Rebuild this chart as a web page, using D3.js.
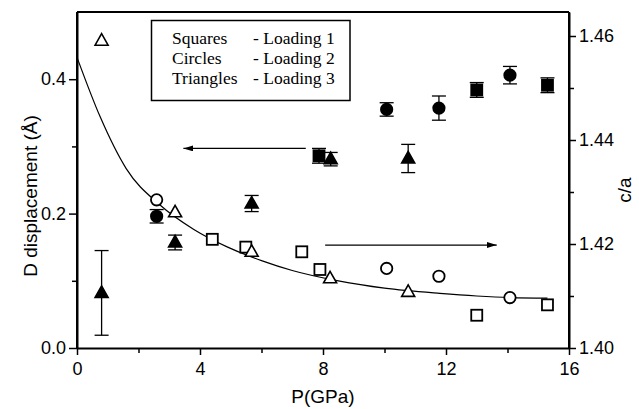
<!DOCTYPE html>
<html><head><meta charset="utf-8">
<script src="https://cdn.jsdelivr.net/npm/d3@7/dist/d3.min.js"></script>
<style>body{margin:0;background:#fff}
.sans{font-family:"Liberation Sans", Arial, sans-serif}
.serif{font-family:"Liberation Serif", "Times New Roman", "DejaVu Serif", serif}
</style>
</head><body><svg id="c" width="639" height="409"></svg>
<script>
// ---- data (P in GPa) ----
// D displacement (filled markers, left axis): [P, D, err]
const dSquares   = [[7.87,0.286,0.011],[13.0,0.384,0.011],[15.3,0.391,0.011]];
const dCircles   = [[2.59,0.196,0.010],[10.07,0.355,0.010],[11.77,0.357,0.018],[14.08,0.406,0.013]];
const dTriangles = [[0.80,0.082,0.063],[3.19,0.157,0.011],[5.68,0.215,0.012],[8.25,0.281,0.010],[10.77,0.282,0.021]];
// c/a (open markers, right axis): [P, c/a]
const cSquares   = [[4.40,1.4209],[5.49,1.4194],[7.31,1.4185],[7.90,1.4151],[13.0,1.4063],[15.3,1.4083]];
const cCircles   = [[2.59,1.4285],[10.07,1.4153],[11.77,1.4138],[14.08,1.4097]];
const cTriangles = [[0.80,1.4591],[3.19,1.4261],[5.68,1.4185],[8.23,1.4134],[10.77,1.4108]];
// fitted curve (c/a)
const fitCurve = [[0,1.4559],[0.75,1.4445],[1.6,1.4345],[2.7,1.4275],[3.8,1.4228],[4.9,1.4194],[6.0,1.4168],[7.0,1.4149],[8.5,1.4129],[10,1.4115],[11.8,1.4105],[13,1.4100],[14.1,1.4097],[15.3,1.4096]];
const xTicks = [0,4,8,12,16];
const yLeftTicks = [0.0,0.2,0.4];
const yRightTicks = [1.40,1.42,1.44,1.46];
const legendRows = [["Squares","- Loading 1"],["Circles","- Loading 2"],["Triangles","- Loading 3"]];

const L=77,R=569,T=12,B=348;
const svg=d3.select("#c");
const x=d3.scaleLinear().domain([0,16]).range([L,R]);
const yL=d3.scaleLinear().domain([0,0.5]).range([B,T]);
const yR=d3.scaleLinear().domain([1.40,1.40+(B-T)/5200]).range([B,T]);

// axes
const ax=svg.append("g").attr("class","sans");
function styleAxis(g){g.attr("font-family",null).attr("font-size",null);g.select(".domain").attr("stroke-width",2);g.selectAll(".tick line").attr("stroke-width",1.5);g.selectAll("text").attr("fill","#000").attr("class","sans").style("font-size","18px");}
const gx=ax.append("g").attr("transform",`translate(0,${B})`)
  .call(d3.axisBottom(x).tickValues(d3.range(0,17,2)).tickSize(7).tickSizeOuter(0).tickFormat(d=>xTicks.includes(d)?d3.format("d")(d):""));
styleAxis(gx); gx.selectAll("text").attr("y",14).attr("dy","0.71em");
gx.selectAll(".tick").filter(d=>!xTicks.includes(d)).select("line").attr("y2",5);
const gl=ax.append("g").attr("transform",`translate(${L},0)`)
  .call(d3.axisLeft(yL).tickValues(d3.range(0,0.45,0.1)).tickSize(8).tickSizeOuter(0).tickFormat(d=>yLeftTicks.some(v=>Math.abs(v-d)<1e-6)?d3.format(".1f")(d):""));
styleAxis(gl); gl.selectAll("text").attr("x",-11);
gl.selectAll(".tick").filter(d=>!yLeftTicks.some(v=>Math.abs(v-d)<1e-6)).select("line").attr("x2",-5);
const gr=ax.append("g").attr("transform",`translate(${R},0)`)
  .call(d3.axisRight(yR).tickValues([1.40,1.41,1.42,1.43,1.44,1.45,1.46]).tickSize(7).tickSizeOuter(0).tickFormat(d=>yRightTicks.some(v=>Math.abs(v-d)<1e-6)?d3.format(".2f")(d):""));
styleAxis(gr); gr.selectAll("text").attr("x",10);
gr.selectAll(".tick").filter(d=>!yRightTicks.some(v=>Math.abs(v-d)<1e-6)).select("line").attr("x2",5);
svg.append("line").attr("x1",L).attr("x2",R).attr("y1",T).attr("y2",T).attr("stroke","#000").attr("stroke-width",2);
svg.append("line").attr("x1",L).attr("x2",L).attr("y1",T).attr("y2",B).attr("stroke","#000").attr("stroke-width",2);
svg.append("line").attr("x1",R).attr("x2",R).attr("y1",T).attr("y2",B).attr("stroke","#000").attr("stroke-width",2);

// titles
svg.append("text").attr("class","sans").attr("x",323).attr("y",403).attr("text-anchor","middle").style("font-size","19px").text("P(GPa)");
svg.append("text").attr("class","sans").attr("transform",`translate(37,196) rotate(-90)`).attr("text-anchor","middle").style("font-size","19px").text("D displacement (Å)");
svg.append("text").attr("class","sans").attr("transform",`translate(631,190) rotate(-90)`).attr("text-anchor","middle").style("font-size","19px").text("c/a");

// fit curve
svg.append("path").datum(fitCurve).attr("fill","none").attr("stroke","#000").attr("stroke-width",1.2)
  .attr("d",d3.line().x(d=>x(d[0])).y(d=>yR(d[1])).curve(d3.curveMonotoneX));

// arrows
const defs=svg.append("defs");
defs.append("marker").attr("id","ah").attr("viewBox","0 0 10 6").attr("refX",10).attr("refY",3)
  .attr("markerWidth",10).attr("markerHeight",6).attr("markerUnits","userSpaceOnUse").attr("orient","auto")
  .append("path").attr("d","M0,0L10,3L0,6Z").attr("fill","#000");
svg.append("line").attr("x1",x(7.44)).attr("x2",x(3.46)).attr("y1",yL(0.297)).attr("y2",yL(0.297)).attr("stroke","#000").attr("stroke-width",1.3).attr("marker-end","url(#ah)");
svg.append("line").attr("x1",x(8.07)).attr("x2",x(13.65)).attr("y1",yR(1.4198)).attr("y2",yR(1.4198)).attr("stroke","#000").attr("stroke-width",1.3).attr("marker-end","url(#ah)");

// error bars
function errbars(data){
  const g=svg.append("g").attr("stroke","#000").attr("stroke-width",1.3);
  data.forEach(d=>{
    const cx=x(d[0]),y1=yL(d[1]-d[2]),y2=yL(d[1]+d[2]);
    g.append("line").attr("x1",cx).attr("x2",cx).attr("y1",y1).attr("y2",y2);
    g.append("line").attr("x1",cx-7).attr("x2",cx+7).attr("y1",y1).attr("y2",y1);
    g.append("line").attr("x1",cx-7).attr("x2",cx+7).attr("y1",y2).attr("y2",y2);
  });
}
errbars(dSquares);errbars(dCircles);errbars(dTriangles);

const triPath="M0,-7L6.5,4.5L-6.5,4.5Z";
function squares(data,y,filled){svg.append("g").selectAll("rect").data(data).join("rect")
  .attr("x",d=>x(d[0])-5.5).attr("y",d=>y(d[1])-5.5).attr("width",11).attr("height",11)
  .attr("fill",filled?"#000":"#fff").attr("stroke","#000").attr("stroke-width",1.8);}
function circles(data,y,filled){svg.append("g").selectAll("circle").data(data).join("circle")
  .attr("cx",d=>x(d[0])).attr("cy",d=>y(d[1])).attr("r",5.7)
  .attr("fill",filled?"#000":"#fff").attr("stroke","#000").attr("stroke-width",1.8);}
function tris(data,y,filled){svg.append("g").selectAll("path").data(data).join("path")
  .attr("transform",d=>`translate(${x(d[0])},${y(d[1])})`).attr("d",triPath)
  .attr("fill",filled?"#000":"#fff").attr("stroke","#000").attr("stroke-width",1.6).attr("stroke-linejoin","miter");}
squares(cSquares,yR,false);circles(cCircles,yR,false);tris(cTriangles,yR,false);
squares(dSquares,yL,true);circles(dCircles,yL,true);tris(dTriangles,yL,true);

// legend
const lg=svg.append("g");
lg.append("rect").attr("x",151.5).attr("y",20.5).attr("width",198.5).attr("height",80).attr("fill","#fff").attr("stroke","#000").attr("stroke-width",1.5);
legendRows.forEach((r,i)=>{
  lg.append("text").attr("class","serif").attr("x",172).attr("y",44+i*20).style("font-size","17.5px").text(r[0]);
  lg.append("text").attr("class","serif").attr("x",253).attr("y",44+i*20).style("font-size","17.5px").text(r[1]);
});
</script></body></html>
